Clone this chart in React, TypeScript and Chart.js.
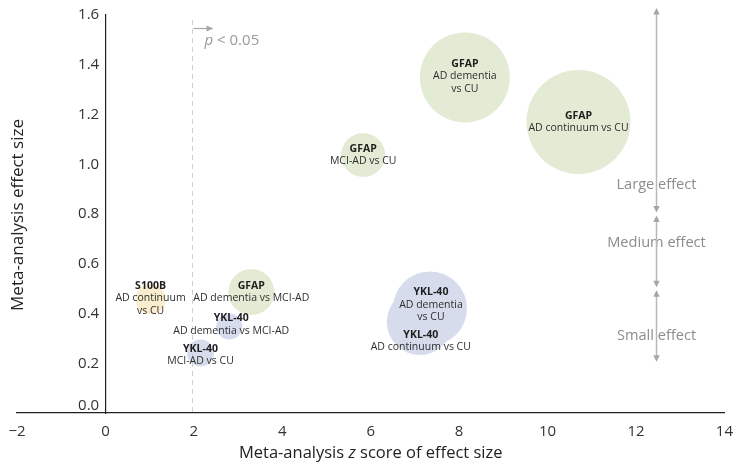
import React, { useEffect, useRef } from 'react';
import { Chart, registerables } from 'chart.js';

Chart.register(...registerables);

// ---- data ----
const markers = ['GFAP', 'GFAP', 'GFAP', 'GFAP', 'S100B', 'YKL-40', 'YKL-40', 'YKL-40', 'YKL-40'];
const comparisons = [
  ['AD dementia', 'vs CU'],
  ['AD continuum vs CU'],
  ['MCI-AD vs CU'],
  ['AD dementia vs MCI-AD'],
  ['AD continuum', 'vs CU'],
  ['AD dementia vs MCI-AD'],
  ['MCI-AD vs CU'],
  ['AD dementia', 'vs CU'],
  ['AD continuum vs CU'],
];
const zScores = [8.13, 10.7, 5.83, 3.3, 1.02, 2.8, 2.15, 7.34, 7.11];
const effectSizes = [1.349, 1.17, 1.037, 0.486, 0.458, 0.348, 0.241, 0.42, 0.366];
const bubbleRadii = [45, 52, 22, 23, 15, 13, 13.5, 37, 33];

const xTickValues = [-2, 0, 2, 4, 6, 8, 10, 12, 14];
const yTickValues = [0, 0.2, 0.4, 0.6, 0.8, 1.0, 1.2, 1.4, 1.6];

const significanceZ = 1.96;
const bandLabels = ['Large effect', 'Medium effect', 'Small effect'];
const bandTops = [1.6, 0.8, 0.5];
const bandBottoms = [0.8, 0.5, 0.2];
const bandLabelAt = [0.917, 0.683, 0.31];
const bandArrowZ = 12.45;

const markerColors: Record<string, string> = {
  GFAP: '#e3ebd5',
  S100B: '#f8edcc',
  'YKL-40': '#d7dcec',
};

// label layout nudges (pixels) per bubble, for readability
const labelNudgeY = [-1, 0, 0, 0, -1, -2, 2, -4, 19];
const labelNudgeX = [0, 0, 0, 0, 0, 2, 0, 1, 1];

const FONT = "'Open Sans', 'Noto Sans', sans-serif";
const TICK_GAP = '\u2005\u2006';

function arrowHead(ctx: CanvasRenderingContext2D, x: number, tipY: number, dir: number) {
  ctx.beginPath();
  ctx.moveTo(x, tipY);
  ctx.lineTo(x - 3.2, tipY + dir * 6.5);
  ctx.lineTo(x + 3.2, tipY + dir * 6.5);
  ctx.closePath();
  ctx.fill();
}

const overlayPlugin = {
  id: 'overlay',
  afterDatasetsDraw(chart: any) {
    const { ctx, chartArea } = chart;
    const x = chart.scales.x;
    const y = chart.scales.y;
    ctx.save();

    // significance dashed line
    const sx = Math.round(x.getPixelForValue(significanceZ)) + 0.5;
    ctx.strokeStyle = '#cfcfcf';
    ctx.lineWidth = 1;
    ctx.setLineDash([5, 4]);
    ctx.beginPath();
    ctx.moveTo(sx, y.getPixelForValue(1.58));
    ctx.lineTo(sx, chartArea.bottom);
    ctx.stroke();
    ctx.setLineDash([]);

    // p < 0.05 arrow
    const ay = Math.round(y.getPixelForValue(1.548)) + 0.5;
    ctx.strokeStyle = '#a8a8a8';
    ctx.fillStyle = '#a8a8a8';
    ctx.lineWidth = 1.2;
    ctx.beginPath();
    ctx.moveTo(sx + 1, ay);
    ctx.lineTo(sx + 16, ay);
    ctx.stroke();
    ctx.beginPath();
    ctx.moveTo(sx + 21, ay);
    ctx.lineTo(sx + 14, ay - 3);
    ctx.lineTo(sx + 14, ay + 3);
    ctx.closePath();
    ctx.fill();

    ctx.fillStyle = '#9a9a9a';
    ctx.textBaseline = 'middle';
    ctx.textAlign = 'left';
    ctx.font = `italic 15px ${FONT}`;
    const py = y.getPixelForValue(1.498);
    ctx.fillText('p', sx + 12, py);
    const pw = ctx.measureText('p').width;
    ctx.font = `15px ${FONT}`;
    ctx.fillText(' < 0.05', sx + 12 + pw, py);

    // effect-size bands
    const bx = Math.round(x.getPixelForValue(bandArrowZ)) + 0.5;
    ctx.font = `14.6px ${FONT}`;
    ctx.textAlign = 'center';
    ctx.fillStyle = '#8c8c8c';
    for (let i = 0; i < bandLabels.length; i++) {
      ctx.fillText(bandLabels[i], bx, y.getPixelForValue(bandLabelAt[i]));
    }
    ctx.strokeStyle = '#b8b8b8';
    ctx.fillStyle = '#a6a6a6';
    ctx.lineWidth = 1.5;
    for (let i = 0; i < bandLabels.length; i++) {
      const top = y.getPixelForValue(bandTops[i]) + (i === 0 ? -7 : 1.5);
      const bot = y.getPixelForValue(bandBottoms[i]) - 1.5;
      ctx.beginPath();
      ctx.moveTo(bx, top + 4);
      ctx.lineTo(bx, bot - 4);
      ctx.stroke();
      arrowHead(ctx, bx, top, 1);
      arrowHead(ctx, bx, bot, -1);
    }

    // bubble labels
    const lh = 12.5;
    ctx.textAlign = 'center';
    ctx.textBaseline = 'middle';
    for (let i = 0; i < markers.length; i++) {
      const cx = x.getPixelForValue(zScores[i]) + labelNudgeX[i];
      const cy = y.getPixelForValue(effectSizes[i]) + labelNudgeY[i];
      const lines = [markers[i], ...comparisons[i]];
      const startY = cy - ((lines.length - 1) * lh) / 2;
      lines.forEach((t, k) => {
        ctx.font = k === 0 ? `bold 10.5px ${FONT}` : `10.5px ${FONT}`;
        ctx.fillStyle = k === 0 ? '#1e1e1e' : '#2e2e2e';
        ctx.fillText(t, cx, startY + k * lh);
      });
    }

    // 0.0 tick label (raised off the x axis)
    ctx.font = `15px ${FONT}`;
    ctx.fillStyle = '#333';
    ctx.textAlign = 'right';
    ctx.textBaseline = 'middle';
    ctx.fillText('0.0' + TICK_GAP, x.getPixelForValue(0), y.getPixelForValue(0) - 7);

    // x axis title
    ctx.fillStyle = '#222';
    const tx = (chartArea.left + chartArea.right) / 2;
    const title1 = 'Meta-analysis ';
    const title2 = 'z';
    const title3 = ' score of effect size';
    const fs = 16.5;
    ctx.font = `${fs}px ${FONT}`;
    const w1 = ctx.measureText(title1).width;
    const w3 = ctx.measureText(title3).width;
    ctx.font = `italic ${fs}px ${FONT}`;
    const w2 = ctx.measureText(title2).width;
    const start = tx - (w1 + w2 + w3) / 2;
    const ty = 453;
    ctx.textAlign = 'left';
    ctx.font = `${fs}px ${FONT}`;
    ctx.fillText(title1, start, ty);
    ctx.font = `italic ${fs}px ${FONT}`;
    ctx.fillText(title2, start + w1, ty);
    ctx.font = `${fs}px ${FONT}`;
    ctx.fillText(title3, start + w1 + w2, ty);

    // y axis title
    ctx.translate(18, 215);
    ctx.rotate(-Math.PI / 2);
    ctx.textAlign = 'center';
    ctx.font = `17px ${FONT}`;
    ctx.fillText('Meta-analysis effect size', 0, 0);
    ctx.restore();
  },
};

export default function App() {
  const ref = useRef<HTMLCanvasElement | null>(null);
  useEffect(() => {
    if (!ref.current) return;
    const data = zScores.map((z, i) => ({ x: z, y: effectSizes[i], r: bubbleRadii[i] }));
    const chart = new Chart(ref.current, {
      type: 'bubble',
      data: {
        datasets: [
          {
            data,
            backgroundColor: markers.map((m) => markerColors[m]),
            borderWidth: 0,
            hoverBorderWidth: 0,
          },
        ],
      },
      options: {
        responsive: false,
        animation: false,
        events: [],
        layout: { autoPadding: false, padding: { left: 17, right: 10, top: 15, bottom: 51 } },
        plugins: { legend: { display: false }, tooltip: { enabled: false } },
        scales: {
          x: {
            type: 'linear',
            position: { y: 0 } as any,
            min: -2,
            max: 14,
            afterFit: (s: any) => { s.height = 0; },
            afterBuildTicks: (s: any) => { s.ticks = xTickValues.map((v) => ({ value: v })); },
            grid: { display: false, drawOnChartArea: false, drawTicks: true, tickLength: 5, tickColor: '#222', tickWidth: 1.2 },
            border: { display: true, color: '#222', width: 1.2 },
            ticks: {
              font: { family: FONT, size: 15 },
              color: '#333',
              padding: 5,
              callback: (v: any) => (v < 0 ? '\u2212' + Math.abs(v) : String(v)),
            },
          },
          y: {
            type: 'linear',
            position: { x: 0 } as any,
            min: 0,
            max: 1.6,
            afterFit: (s: any) => { s.width = 0; },
            afterBuildTicks: (s: any) => { s.ticks = yTickValues.map((v) => ({ value: v })); },
            grid: { display: false, drawOnChartArea: false, drawTicks: true, tickLength: 5, tickColor: '#222', tickWidth: 1.2 },
            border: { display: true, color: '#222', width: 1.2 },
            ticks: {
              font: { family: FONT, size: 15 },
              color: '#333',
              padding: 2,
              callback: (v: any) => (v === 0 ? '' : Number(v).toFixed(1) + TICK_GAP),
            },
          },
        },
      },
      plugins: [overlayPlugin],
    });
    return () => chart.destroy();
  }, []);
  return (
    <div style={{ position: 'fixed', left: 0, top: 0, width: 738, height: 464, background: '#fff' }}>
      <canvas ref={ref} width={738} height={464} />
    </div>
  );
}
